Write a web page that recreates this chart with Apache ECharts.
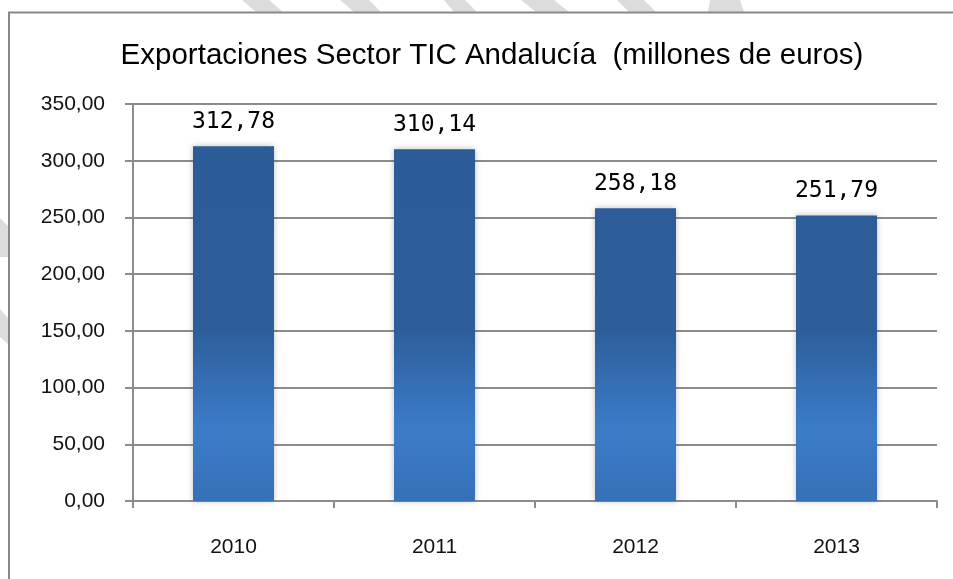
<!DOCTYPE html>
<html>
<head>
<meta charset="utf-8">
<script src="https://cdn.jsdelivr.net/npm/echarts@6/dist/echarts.min.js"></script>
<style>
  html, body { margin: 0; padding: 0; background: #fff; }
  #chart { width: 953px; height: 579px; }
</style>
</head>
<body>
<div id="chart"></div>
<script>
// data
const years = ['2010', '2011', '2012', '2013'];
const exportaciones = [312.78, 310.14, 258.18, 251.79];
const yTicks = [0, 50, 100, 150, 200, 250, 300, 350];

const fmt = v => Number(v).toFixed(2).replace('.', ',');

// watermark stripes behind the frame (background decoration)
const stripe = (x0, x1, x2, x3) => ({
  type: 'polygon', silent: true, z: -10,
  shape: { points: [[x0, 0], [x1, 0], [x3, 12], [x2, 12]] },
  style: { fill: '#dcdcdc' }
});

const chart = echarts.init(document.getElementById('chart'));

const option = {
  backgroundColor: '#fff',
  animation: false,
  title: {
    text: 'Exportaciones Sector TIC Andalucía  (millones de euros)',
    left: 487, top: 36, textAlign: 'center',
    textStyle: { fontFamily: 'Liberation Sans', fontSize: 29.5, fontWeight: 'normal', color: '#000' }
  },
  grid: { left: 133, right: 16, top: 104, bottom: 78 },
  xAxis: {
    type: 'category',
    data: years,
    axisLine: { lineStyle: { color: '#8c8c8c', width: 2 } },
    axisTick: { show: true, alignWithLabel: false, length: 7, lineStyle: { color: '#8c8c8c', width: 2 } },
    axisLabel: { margin: 36, fontFamily: 'Liberation Sans', fontSize: 21, color: '#111' }
  },
  yAxis: {
    type: 'value',
    min: yTicks[0], max: yTicks[yTicks.length - 1], interval: 50,
    axisLine: { show: true, lineStyle: { color: '#8c8c8c', width: 2 } },
    axisTick: { show: true, length: 8, inside: false, lineStyle: { color: '#8c8c8c', width: 2 } },
    splitLine: { lineStyle: { color: '#8c8c8c', width: 2 } },
    axisLabel: { margin: 28, formatter: fmt, fontFamily: 'Liberation Sans', fontSize: 21, color: '#111' }
  },
  series: [{
    type: 'bar',
    data: exportaciones,
    barWidth: 81,
    itemStyle: {
      color: new echarts.graphic.LinearGradient(0, 104, 0, 501, [
        { offset: 0, color: '#2c5c97' },
        { offset: 0.57, color: '#2d5e9a' },
        { offset: 0.82, color: '#3b7cc9' },
        { offset: 1, color: '#3670b6' }
      ], true),
      shadowBlur: 6,
      shadowColor: 'rgba(0,0,0,0.25)'
    },
    label: {
      show: true, position: 'top', distance: 13,
      formatter: p => fmt(p.value),
      fontFamily: 'DejaVu Sans Mono', fontSize: 23, color: '#000'
    }
  }],
  graphic: [
    stripe(242, 269, 256, 283),
    stripe(340, 369, 354, 381),
    stripe(444, 465, 454, 477),
    stripe(521, 554, 536, 569),
    stripe(617, 644, 629, 656),
    stripe(710, 740, 708, 744),
    { type: 'polygon', silent: true, z: -10,
      shape: { points: [[0, 218], [8, 226], [8, 257], [0, 257]] }, style: { fill: '#dcdcdc' } },
    { type: 'polygon', silent: true, z: -10,
      shape: { points: [[0, 309], [8, 318], [8, 344], [0, 337]] }, style: { fill: '#dcdcdc' } },
    // frame around the chart
    { type: 'polyline', silent: true,
      shape: { points: [[9, 579], [9, 12.5], [953, 12.5]] },
      style: { stroke: '#888', lineWidth: 2, fill: null } }
  ]
};

chart.setOption(option);
</script>
</body>
</html>
